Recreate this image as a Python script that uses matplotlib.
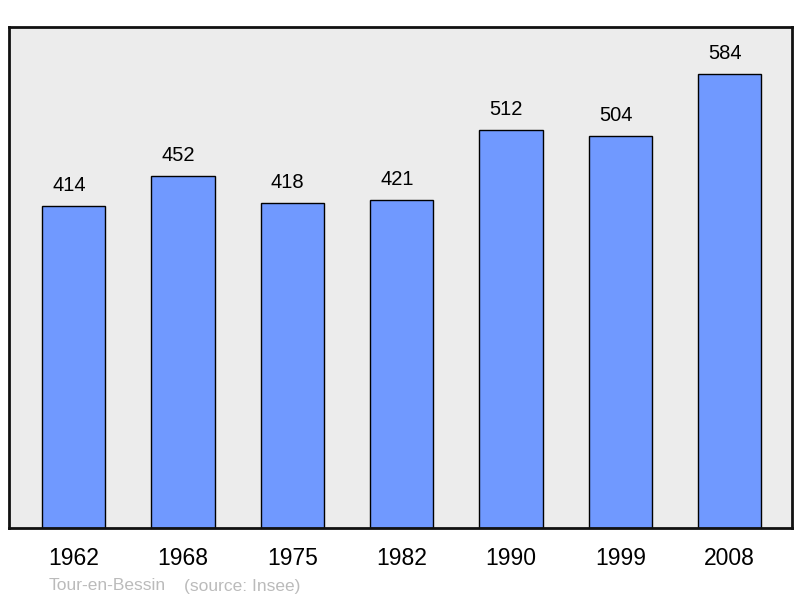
import matplotlib.pyplot as plt

years = ['1962', '1968', '1975', '1982', '1990', '1999', '2008']
population = [414, 452, 418, 421, 512, 504, 584]
town = 'Tour-en-Bessin'
source = '(source: Insee)'

plt.rcParams['font.family'] = ['Liberation Sans', 'DejaVu Sans']

fig = plt.figure(figsize=(8, 5.98), dpi=100)
W, H = 800, 598
ax = fig.add_axes([9 / W, (H - 528) / H, 783 / W, 501 / H])
ax.set_facecolor('#ececec')

x = list(range(len(years)))
ax.bar(x, population, width=0.58, color='#7099ff',
       edgecolor='black', linewidth=1.0, zorder=2)

# labels sit a little left of the bar centre, like the original
for xi, v in zip(x, population):
    ax.annotate(str(v), (xi, v), xytext=(-3.3, 8), textcoords='offset points',
                ha='center', va='bottom', fontsize=14.5, color='black')

ax.set_xlim(-0.59, 6.57)
ax.set_ylim(0, 644)
ax.set_yticks([])
ax.set_xticks(x)
ax.set_xticklabels(years, fontsize=16.5)
ax.tick_params(axis='x', length=0, pad=14)
for s in ax.spines.values():
    s.set_linewidth(2)
    s.set_color('#111111')

fig.text(49 / W, 1 - 586 / H, town, fontsize=12.5, color='#bbbbbb',
         ha='left', va='center')
fig.text(184 / W, 1 - 586 / H, source, fontsize=12.5, color='#bbbbbb',
         ha='left', va='center')

fig.savefig('out.png', dpi=100)
